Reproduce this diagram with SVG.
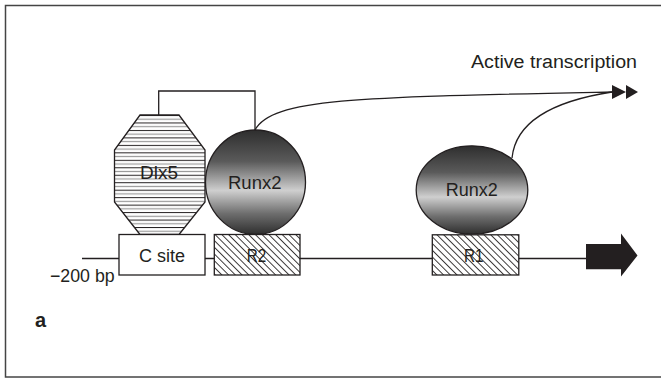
<svg xmlns="http://www.w3.org/2000/svg" width="661" height="379" viewBox="0 0 661 379">
<style>
.t{font-family:"Liberation Sans",Arial,sans-serif;fill:#231f20;font-size:18px}
.ln{fill:none;stroke:#231f20;stroke-width:1.3}
.box{stroke:#231f20;stroke-width:1.3}
</style>
<defs>
<linearGradient id="g" x1="0" y1="0" x2="0" y2="1">
<stop offset="0" stop-color="#2e2e2e"/>
<stop offset="0.3" stop-color="#5a5a5a"/>
<stop offset="0.58" stop-color="#cfcfcf"/>
<stop offset="0.8" stop-color="#6e6e6e"/>
<stop offset="1" stop-color="#2e2e2e"/>
</linearGradient>
<pattern id="stripes" patternUnits="userSpaceOnUse" x="0" y="115" width="20" height="7.47">
<rect width="20" height="7.47" fill="#fff"/>
<line x1="0" y1="0.5" x2="20" y2="0.5" stroke="#231f20" stroke-width="1"/>
<line x1="0" y1="4.2" x2="20" y2="4.2" stroke="#9a9a9a" stroke-width="1.2"/>
</pattern>
<pattern id="hatch" patternUnits="userSpaceOnUse" width="4.75" height="10" patternTransform="rotate(-45)">
<rect width="4.75" height="10" fill="#fff"/>
<line x1="0.5" y1="0" x2="0.5" y2="10" stroke="#231f20" stroke-width="0.9"/>
</pattern>
</defs>
<rect x="5.5" y="5.5" width="670" height="371.5" fill="#fff" stroke="#444" stroke-width="1.5"/>
<g id="connectors">
<line class="ln" x1="82" y1="258.5" x2="586" y2="258.5"/>
<path class="ln" d="M158.7,115 V91 H255 V130"/>
<path class="ln" d="M255,130 C272,98 360,97 612,92"/>
<path class="ln" d="M512,158 C516,118 560,100 612,92"/>
<polygon points="612,85 626,92 612,99" fill="#231f20"/>
<polygon points="626,85 638,92 626,99" fill="#231f20"/>
</g>
<g id="dlx5">
<polygon points="140,115 179,115 205,150 205,202 179,234.5 140,234.5 114.5,202 114.5,150" fill="url(#stripes)" class="box"/>
<text class="t" x="140" y="179" textLength="38" lengthAdjust="spacingAndGlyphs">Dlx5</text>
</g>
<g id="runx2-left">
<ellipse cx="255.5" cy="182.2" rx="50" ry="52.2" fill="url(#g)" class="box"/>
<text class="t" x="228" y="189.3" textLength="53.5" lengthAdjust="spacingAndGlyphs">Runx2</text>
</g>
<g id="runx2-right">
<ellipse cx="472" cy="190" rx="55.8" ry="44.2" fill="url(#g)" class="box"/>
<text class="t" x="445.7" y="196" textLength="52" lengthAdjust="spacingAndGlyphs">Runx2</text>
</g>
<g id="csite">
<rect x="119" y="234.5" width="86" height="40.5" fill="#fff" class="box"/>
<text class="t" x="139" y="261.7" textLength="46" lengthAdjust="spacingAndGlyphs">C site</text>
</g>
<g id="r2">
<rect x="214.3" y="234.5" width="85.7" height="40.5" fill="url(#hatch)" class="box"/>
<text class="t" x="246.7" y="262" textLength="19.5" lengthAdjust="spacingAndGlyphs">R2</text>
</g>
<g id="r1">
<rect x="432.3" y="234.8" width="86.5" height="40.2" fill="url(#hatch)" class="box"/>
<text class="t" x="464" y="261.7" textLength="19.5" lengthAdjust="spacingAndGlyphs">R1</text>
</g>
<g id="promoter-arrow">
<polygon points="586,244 621,244 621,233.5 637.5,255.5 621,276.5 621,269.3 586,269.3" fill="#231f20"/>
</g>
<g id="labels">
<text class="t" x="471" y="67.5" textLength="166" lengthAdjust="spacingAndGlyphs">Active transcription</text>
<text class="t" x="50" y="281.7" textLength="64.7" lengthAdjust="spacingAndGlyphs">−200 bp</text>
<text class="t" x="35" y="327.3" style="font-weight:bold;font-size:20px">a</text>
</g>
</svg>
